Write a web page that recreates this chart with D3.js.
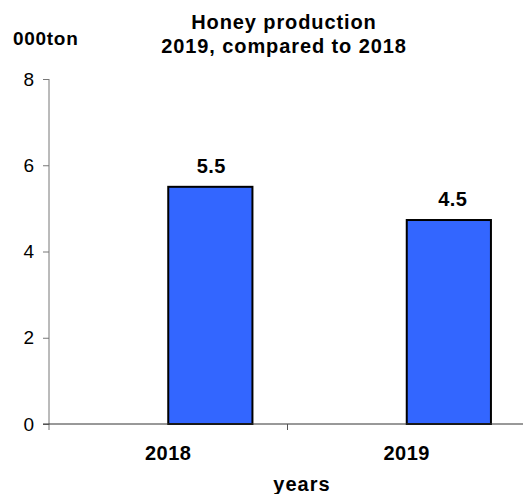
<!DOCTYPE html>
<html lang="en">
<head>
<meta charset="UTF-8">
<title>Honey production</title>
<script src="https://d3js.org/d3.v7.min.js"></script>
<style>
  body { margin: 0; background: #fff; }
  svg text { font-family: "Liberation Sans", Arial, sans-serif; fill: #000; }
</style>
</head>
<body>
<div id="plot"></div>
<script>
// data
var years = ["2018", "2019"];
var production = [5.5, 4.73];
var valueLabels = ["5.5", "4.5"];
var yTicks = [0, 2, 4, 6, 8];

var W = 523, H = 494;
var margin = {top: 79, right: -3, bottom: 70, left: 49};
var width = W - margin.left - margin.right;
var height = H - margin.top - margin.bottom;

var svg = d3.select("#plot").append("svg")
    .attr("width", W).attr("height", H);

var g = svg.append("g")
    .attr("transform", `translate(${margin.left},${margin.top})`);

var x = d3.scaleBand().domain(years).range([0, width]);
var y = d3.scaleLinear().domain([0, 8]).range([height, 0]);

var barW = x.bandwidth() * 0.353;

// bars sit in the right half of each band (like an Excel chart with an empty first series)
g.selectAll("rect.bar")
    .data(years)
    .enter().append("rect")
    .attr("class", "bar")
    .attr("x", function(d) { return x(d) + x.bandwidth() / 2; })
    .attr("y", function(d, i) { return y(production[i]); })
    .attr("width", barW)
    .attr("height", function(d, i) { return height - y(production[i]); })
    .style("fill", "#3366ff")
    .style("stroke", "#000")
    .style("stroke-width", 2);

// value labels
g.selectAll("text.val")
    .data(years)
    .enter().append("text")
    .attr("class", "val")
    .attr("x", function(d, i) { return x(d) + x.bandwidth() / 2 + barW / 2 + (i ? 4 : 1); })
    .attr("y", function(d, i) { return y(production[i]) - 14; })
    .attr("text-anchor", "middle")
    .style("font-size", "20px")
    .style("font-weight", "bold")
    .style("letter-spacing", "0.5px")
    .text(function(d, i) { return valueLabels[i]; });

// y axis
var yAxis = g.append("g")
    .call(d3.axisLeft(y).tickValues(yTicks).tickSize(6).tickPadding(9).tickFormat(d3.format("d")));
yAxis.select(".domain").attr("stroke", "#777").attr("d", `M0,${y(8)}V${height + 6}`);
yAxis.selectAll(".tick line").attr("stroke", "#777");
yAxis.selectAll(".tick text").style("font-size", "19px").style("font-family", "Liberation Sans, Arial, sans-serif");

// x axis
var xAxis = g.append("g")
    .attr("transform", `translate(0,${height})`)
    .call(d3.axisBottom(x).tickSize(0).tickPadding(22));
xAxis.select(".domain").attr("stroke", "#333").attr("d", `M-6,0H${width}`);
xAxis.selectAll(".tick text")
    .style("font-size", "20px").style("font-weight", "bold")
    .style("font-family", "Liberation Sans, Arial, sans-serif")
    .style("letter-spacing", "0.5px");
// category separator tick
xAxis.append("line")
    .attr("x1", x(years[1])).attr("x2", x(years[1]))
    .attr("y1", 0).attr("y2", 6)
    .attr("stroke", "#555");

// x axis title
svg.append("text")
    .attr("x", 302).attr("y", 491)
    .attr("text-anchor", "middle")
    .style("font-size", "20px").style("font-weight", "bold")
    .style("letter-spacing", "1px")
    .text("years");

// y unit
svg.append("text")
    .attr("x", 13).attr("y", 45)
    .style("font-size", "19px").style("font-weight", "bold")
    .style("letter-spacing", "0.7px")
    .text("000ton");

// title
var title = svg.append("text")
    .attr("x", 284).attr("text-anchor", "middle")
    .style("font-size", "20px").style("font-weight", "bold")
    .style("letter-spacing", "0.9px");
title.append("tspan").attr("x", 284).attr("y", 29).text("Honey production");
title.append("tspan").attr("x", 284).attr("y", 53).text("2019, compared to 2018");
</script>
</body>
</html>
